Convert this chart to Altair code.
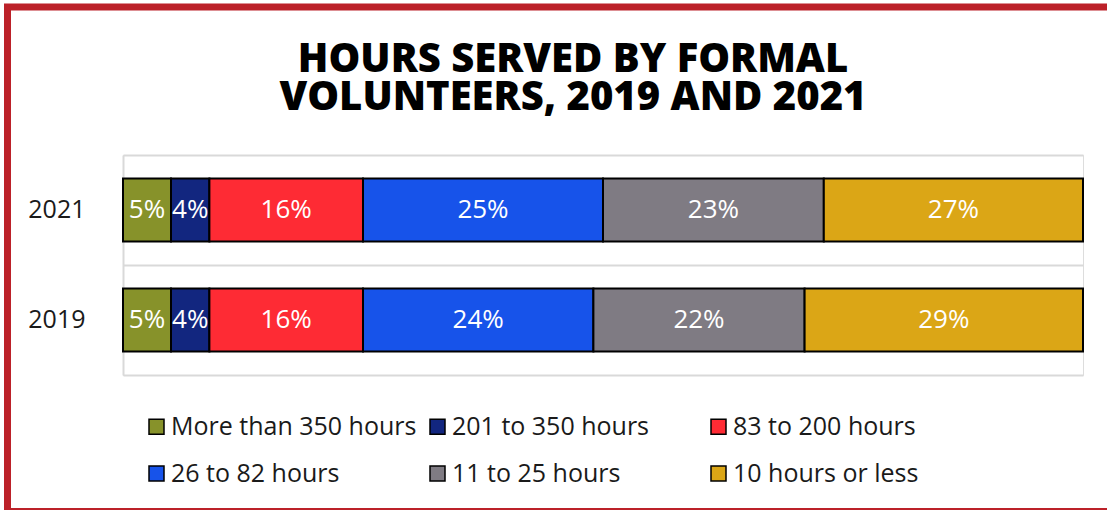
import altair as alt
import pandas as pd

years = ["2021", "2019"]
categories = ["More than 350 hours", "201 to 350 hours", "83 to 200 hours",
              "26 to 82 hours", "11 to 25 hours", "10 hours or less"]
values_2021 = [5, 4, 16, 25, 23, 27]
values_2019 = [5, 4, 16, 24, 22, 29]
colors = ["#87922A", "#12267F", "#FE2B34", "#1753EA", "#7F7B83", "#DBA616"]

rows = []
for yr, vals in zip(years, [values_2021, values_2019]):
    for i, (c, v) in enumerate(zip(categories, vals)):
        rows.append({"year": yr, "category": c, "value": v, "order": i})
df = pd.DataFrame(rows)

FONT = "Open Sans"

base = alt.Chart(df).transform_stack(
    stack="value", groupby=["year"], as_=["x0", "x1"],
    sort=[alt.SortField("order", order="ascending")]
).transform_calculate(
    mid="(datum.x0 + datum.x1) / 2", label="datum.value + '%'"
)

yenc = alt.Y("year:N", sort=years,
             scale=alt.Scale(paddingInner=0, paddingOuter=0),
             axis=alt.Axis(title=None, ticks=False, labelFontSize=25, labelFont=FONT,
                           labelColor="#1a1a1a", labelPadding=38,
                           domainColor="#D9D9D9", domainWidth=2,
                           grid=True, gridColor="#D9D9D9", gridWidth=2,
                           bandPosition=0))

bars = base.mark_bar(stroke="black", strokeWidth=2, size=63).encode(
    x=alt.X("x0:Q", scale=alt.Scale(domain=[0, 100], nice=False),
            axis=alt.Axis(title=None, labels=False, ticks=False, grid=False,
                          domainColor="#D9D9D9", domainWidth=2)),
    x2="x1:Q",
    y=yenc,
    color=alt.Color("category:N",
                    scale=alt.Scale(domain=categories, range=colors),
                    legend=alt.Legend(title=None, orient="none", legendX=21, legendY=259,
                                      direction="horizontal",
                                      columns=3, symbolType="square", symbolSize=225,
                                      symbolStrokeColor="black", symbolStrokeWidth=1.5,
                                      labelFontSize=25, labelFont=FONT, labelColor="#1a1a1a",
                                      labelOffset=2, rowPadding=21, columnPadding=8,
                                      gridAlign="all", labelLimit=0)),
)

texts = base.mark_text(color="white", fontSize=26, font=FONT).encode(
    x="mid:Q", y=alt.Y("year:N", sort=years), text="label:N"
)

frame = alt.Chart(alt.Data(values=[{}])).mark_rect(
    fill=None, stroke="#BC2129", strokeWidth=7
).encode(
    x=alt.value(-115.5), x2=alt.value(1000), y=alt.value(-148), y2=alt.value(356.5)
)

chart = alt.layer(bars, texts, frame).properties(
    width=960, height=220,
    autosize=alt.AutoSizeParams(type="none"),
    padding={"left": 123, "top": 155, "right": 24, "bottom": 135},
    title=alt.TitleParams(["HOURS SERVED BY FORMAL", "VOLUNTEERS, 2019 AND 2021"],
                          fontSize=40, font=FONT, fontWeight=800, lineHeight=38,
                          anchor="middle", frame="group", dx=-30, offset=-114,
                          color="black"),
).configure_view(stroke=None).configure(background="white")

chart.save("out.html", embed_options={"renderer": "svg", "actions": False})
